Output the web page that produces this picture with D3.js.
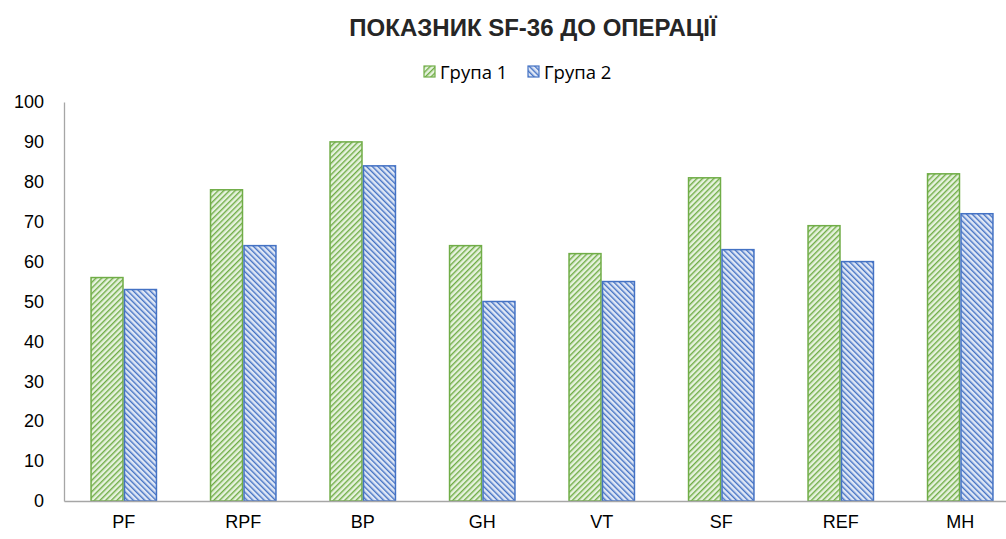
<!DOCTYPE html>
<html>
<head>
<meta charset="utf-8">
<script src="https://cdn.jsdelivr.net/npm/d3@7"></script>
<style>
  body { margin: 0; background: #fff; }
  svg { display: block; font-family: Carlito, "Open Sans", "Liberation Sans", sans-serif; }
</style>
</head>
<body>
<svg id="chart" width="1006" height="539"></svg>
<script>
// chart data
const categories = ['PF', 'RPF', 'BP', 'GH', 'VT', 'SF', 'REF', 'MH'];
const seriesNames = ['Група 1', 'Група 2'];
const group1 = [56, 78, 90, 64, 62, 81, 69, 82];
const group2 = [53, 64, 84, 50, 55, 63, 60, 72];
const yTicks = [0, 10, 20, 30, 40, 50, 60, 70, 80, 90, 100];

const width = 1006;
const height = 539;
const margin = { top: 102, right: -14, bottom: 38, left: 64 };

const colors = [
  { stroke: '#70ad47', bg: '#e6f2de', id: 'pat-green', dir: 'up' },
  { stroke: '#4472c4', bg: '#dfe7f5', id: 'pat-blue', dir: 'down' },
];

const svg = d3.select('#chart');

/* Hatch patterns */
const defs = svg.append('defs');
colors.forEach(c => {
  const p = defs.append('pattern')
    .attr('id', c.id)
    .attr('patternUnits', 'userSpaceOnUse')
    .attr('width', 4)
    .attr('height', 4)
    .attr('patternTransform', `rotate(${c.dir === 'up' ? 45 : -45})`);
  p.append('rect').attr('width', 4).attr('height', 4).attr('fill', c.bg);
  p.append('rect').attr('x', 0).attr('y', 0).attr('width', 1.4).attr('height', 4)
    .attr('fill', c.stroke);
});

const x0 = d3.scaleBand()
  .domain(categories)
  .range([margin.left, width - margin.right])
  .paddingInner(0.44)
  .paddingOuter(0.22);

const x1 = d3.scaleBand()
  .domain(seriesNames)
  .range([0, x0.bandwidth()]);

const y = d3.scaleLinear()
  .domain([0, 100])
  .range([height - margin.bottom, margin.top]);

/* Bars */
const rows = categories.map((c, i) => ({ cat: c, vals: [group1[i], group2[i]] }));
const groups = svg.append('g').selectAll('g')
  .data(rows)
  .enter()
  .append('g')
  .attr('transform', d => `translate(${x0(d.cat)},0)`);

groups.selectAll('rect')
  .data(d => d.vals.map((v, k) => ({ v, k })))
  .enter()
  .append('rect')
  .attr('x', d => x1(seriesNames[d.k]) + 0.75)
  .attr('width', x1.bandwidth() - 1.5)
  .attr('y', d => y(d.v))
  .attr('height', d => y(0) - y(d.v))
  .attr('fill', d => `url(#${colors[d.k].id})`)
  .attr('stroke', d => colors[d.k].stroke)
  .attr('stroke-width', 1.5);

/* Axes */
const yAxis = svg.append('g')
  .attr('transform', `translate(${margin.left},0)`)
  .call(d3.axisLeft(y).tickValues(yTicks).tickSize(0).tickPadding(20));
yAxis.select('.domain').attr('stroke', '#a6a6a6').attr('stroke-width', 1.3);
yAxis.selectAll('text').attr('font-size', 18).attr('fill', '#000')
  .style('font-family', 'inherit');

const xAxis = svg.append('g')
  .attr('transform', `translate(0,${y(0)})`)
  .call(d3.axisBottom(x0).tickSize(0).tickPadding(14));
xAxis.select('.domain').attr('stroke', '#a6a6a6').attr('stroke-width', 1.3);
xAxis.selectAll('text').attr('font-size', 18).attr('fill', '#000')
  .style('font-family', 'inherit');

/* Title */
svg.append('text')
  .attr('x', 533)
  .attr('y', 36)
  .attr('text-anchor', 'middle')
  .attr('font-family', 'Liberation Sans, Arial, sans-serif')
  .attr('font-weight', 'bold')
  .attr('font-size', 24)
  .attr('fill', '#262626')
  .text('ПОКАЗНИК SF-36 ДО ОПЕРАЦІЇ');

/* Legend */
const legendX = [424, 528];
const legend = svg.append('g').selectAll('g')
  .data(seriesNames)
  .enter()
  .append('g')
  .attr('transform', (d, i) => `translate(${legendX[i]},66)`);
legend.append('rect')
  .attr('width', 11).attr('height', 11)
  .attr('fill', (d, i) => `url(#${colors[i].id})`)
  .attr('stroke', (d, i) => colors[i].stroke)
  .attr('stroke-width', 1.2);
legend.append('text')
  .attr('x', 16)
  .attr('y', 12.5)
  .attr('font-family', '"Open Sans", sans-serif')
  .attr('font-size', 18.5)
  .attr('fill', '#000')
  .text(d => d);
</script>
</body>
</html>
